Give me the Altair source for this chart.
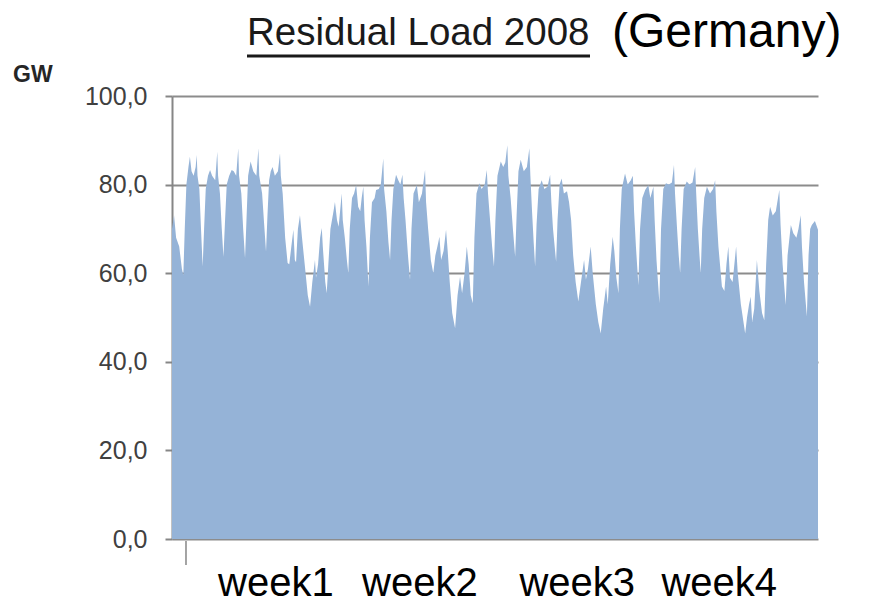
import altair as alt
import pandas as pd

# Residual load: (day since start of plot, GW)
day = [
    0.00, 0.10, 0.20, 0.35, 0.48, 0.55,
    0.62, 0.70, 0.80, 0.87, 0.95, 1.05, 1.15, 1.20, 1.24, 1.33, 1.41, 1.49,
    1.56, 1.64, 1.75, 1.85, 1.95, 2.10, 2.20, 2.24, 2.33, 2.42, 2.50,
    2.57, 2.66, 2.78, 2.90, 3.00, 3.12, 3.22, 3.26, 3.37, 3.46, 3.55,
    3.62, 3.70, 3.82, 3.95, 4.10, 4.20, 4.24, 4.38, 4.48, 4.57,
    4.64, 4.72, 4.80, 4.89, 5.00, 5.15, 5.25, 5.29, 5.38, 5.50, 5.62, 5.70,
    5.80, 5.90, 5.97, 6.03, 6.12, 6.22, 6.32, 6.45, 6.60, 6.71,
    6.82, 6.95, 7.00, 7.10, 7.20, 7.28, 7.33, 7.45, 7.52,
    7.60, 7.70, 7.85, 7.92, 8.02, 8.10, 8.25, 8.30, 8.40, 8.50, 8.57,
    8.64, 8.75, 8.85, 8.95, 9.05, 9.15, 9.22, 9.30, 9.36, 9.45, 9.55,
    9.62, 9.72, 9.85, 9.92, 10.05, 10.15, 10.27, 10.31, 10.42, 10.52, 10.60,
    10.67, 10.76, 10.89, 11.00, 11.10, 11.20, 11.26, 11.35, 11.47, 11.57,
    11.64, 11.74, 11.90, 12.00, 12.15, 12.30, 12.35, 12.45, 12.58, 12.70,
    12.80, 12.90, 13.00, 13.08, 13.20, 13.32, 13.40, 13.50, 13.62, 13.76,
    13.88, 14.00, 14.10, 14.22, 14.33, 14.42, 14.52, 14.62,
    14.70, 14.80, 14.94, 15.05, 15.20, 15.30, 15.36, 15.46, 15.56, 15.65,
    15.72, 15.82, 15.98, 16.10, 16.20, 16.30, 16.35, 16.46, 16.57, 16.68,
    16.75, 16.84, 16.95, 17.10, 17.25, 17.37, 17.42, 17.50, 17.58, 17.65,
    17.72, 17.82, 17.97, 18.10, 18.25, 18.38, 18.44, 18.52, 18.60, 18.67,
    18.74, 18.84, 18.94, 19.05, 19.20, 19.30, 19.40, 19.50, 19.62, 19.75,
    19.88, 20.03, 20.12, 20.22, 20.35, 20.45, 20.60, 20.72, 20.84,
    20.96, 21.10, 21.18, 21.30, 21.42, 21.50, 21.60, 21.70,
    21.77, 21.86, 22.02, 22.15, 22.30, 22.40, 22.46, 22.55, 22.67,
    22.75, 22.86, 23.00, 23.15, 23.25, 23.40, 23.46, 23.55, 23.69,
    23.77, 23.88, 24.01, 24.15, 24.30, 24.40, 24.45, 24.55, 24.63, 24.70,
    24.77, 24.87, 25.02, 25.15, 25.30, 25.43, 25.48, 25.56, 25.64, 25.70,
    25.77, 25.87, 26.00, 26.15, 26.30, 26.40, 26.46, 26.56, 26.73,
    26.85, 26.95, 27.04, 27.12, 27.25, 27.42, 27.50, 27.65, 27.86,
    27.95, 28.05, 28.13, 28.20, 28.30, 28.43, 28.55, 28.68, 28.79,
    28.88, 28.98, 29.07, 29.20, 29.35, 29.52, 29.58, 29.68, 29.83,
    29.92, 30.08, 30.20, 30.35, 30.45, 30.56, 30.62, 30.72, 30.86,
    30.94, 31.02, 31.10, 31.25, 31.40,
]
gw = [
    70.0, 73.0, 68.0, 66.0, 61.0, 59.5,
    70.0, 80.0, 84.0, 86.3, 83.0, 82.0, 84.0, 86.7, 82.0, 79.0, 70.0, 61.5,
    70.0, 79.0, 82.0, 83.3, 82.0, 81.0, 87.4, 82.0, 78.0, 70.0, 63.7,
    71.0, 80.0, 82.0, 83.3, 83.0, 82.0, 88.2, 82.0, 78.0, 70.0, 63.4,
    72.0, 82.0, 85.2, 83.0, 82.0, 88.2, 82.0, 78.0, 71.0, 64.9,
    73.0, 81.0, 83.0, 84.0, 82.0, 83.0, 87.1, 82.0, 78.0, 68.0, 62.3, 62.0,
    66.0, 69.8, 63.0, 62.5, 70.0, 73.1, 68.0, 62.0, 55.0, 52.4,
    58.0, 63.0, 59.0, 62.0, 68.0, 70.2, 66.0, 58.0, 55.5,
    62.0, 70.0, 74.0, 76.1, 72.0, 70.5, 78.0, 72.0, 68.0, 63.0, 60.0,
    70.0, 77.0, 78.0, 79.9, 75.0, 74.0, 77.0, 79.5, 72.0, 66.0, 57.0,
    68.0, 76.0, 77.0, 78.8, 79.0, 80.0, 85.9, 79.0, 74.0, 67.0, 63.0,
    72.0, 79.0, 82.2, 81.0, 80.0, 82.2, 77.0, 72.0, 64.0, 58.5,
    70.0, 78.0, 79.9, 76.0, 78.0, 83.3, 76.0, 70.0, 63.0, 60.0,
    64.0, 66.0, 68.2, 63.0, 65.0, 69.8, 65.0, 58.0, 51.0, 47.6,
    55.0, 59.2, 55.5, 60.0, 66.0, 62.0, 55.0, 53.2,
    68.0, 78.0, 80.3, 79.0, 80.0, 83.3, 78.0, 72.0, 66.0, 61.5,
    72.0, 82.0, 85.2, 84.0, 85.0, 88.9, 82.0, 77.0, 70.0, 63.7,
    73.0, 83.0, 85.6, 83.0, 84.0, 88.2, 82.0, 74.0, 67.0, 61.5,
    71.0, 79.0, 81.0, 79.0, 79.5, 82.2, 76.0, 70.0, 66.0, 62.6,
    72.0, 80.0, 81.4, 78.0, 78.5, 76.0, 72.0, 64.0, 58.0, 53.6,
    58.0, 63.0, 58.6, 61.0, 66.0, 60.0, 53.0, 49.0, 46.4,
    52.0, 57.0, 53.0, 62.0, 68.2, 65.0, 59.0, 55.5,
    70.0, 79.0, 82.5, 80.0, 81.0, 82.0, 74.0, 66.0, 57.3,
    70.0, 77.0, 78.8, 79.9, 77.0, 79.5, 72.0, 63.0, 53.2,
    70.0, 79.0, 80.3, 80.0, 80.5, 84.4, 78.0, 70.0, 64.0, 60.0,
    70.0, 79.0, 80.7, 80.0, 80.5, 84.0, 78.0, 70.0, 64.0, 60.0,
    70.0, 77.0, 79.5, 78.0, 79.0, 81.0, 74.0, 66.0, 57.0,
    56.0, 62.0, 66.0, 59.0, 58.0, 66.0, 60.0, 53.0, 46.4,
    50.0, 53.0, 54.7, 49.0, 52.0, 63.0, 56.0, 51.0, 49.4,
    62.0, 72.0, 75.0, 73.0, 74.0, 78.8, 71.0, 62.0, 52.8,
    64.0, 70.9, 69.0, 68.0, 70.0, 73.1, 66.0, 58.0, 50.2,
    64.0, 70.0, 70.9, 71.8, 69.8,
]

week_labels = ["week1", "week2", "week3", "week4"]
week_label_pos = [5.05, 12.05, 19.7, 26.6]
week_ticks = [0.68, 7.68, 14.68, 21.68, 28.68]
y_ticks = [0, 20, 40, 60, 80, 100]

title_main = "Residual Load 2008"
title_extra = "(Germany)"
unit_label = "GW"

W, H = 646, 443
GRAY = "#868686"
SANS = "Liberation Sans, Arial"

load = pd.DataFrame({"day": day, "gw": gw})
x_scale = alt.Scale(domain=[0, 31.4], nice=False, zero=False)
y_scale = alt.Scale(domain=[0, 100], nice=False)

area = alt.Chart(load).mark_area(color="#95B3D7", opacity=1, interpolate="linear").encode(
    x=alt.X("day:Q", scale=x_scale,
            axis=alt.Axis(values=week_ticks, labels=False, title=None, grid=False,
                          tickSize=8, tickColor=GRAY, tickWidth=1.5, domain=False)),
    y=alt.Y("gw:Q", scale=y_scale,
            axis=alt.Axis(values=y_ticks, title=None, grid=True, gridColor="#8C8C8C",
                          gridWidth=2,
                          labelExpr="replace(format(datum.value, '.1f'), '.', ',')",
                          labelFont=SANS, labelFontSize=25, labelColor="#404040",
                          labelPadding=18, tickSize=7, tickColor=GRAY, tickWidth=2,
                          domainColor=GRAY, domainWidth=2)),
)

long_tick = alt.Chart(pd.DataFrame({"pos": [week_ticks[0]]})).mark_rule(
    color=GRAY, strokeWidth=1.5
).encode(
    x=alt.X("pos:Q", scale=x_scale, axis=None),
    y=alt.value(H + 2), y2=alt.value(H + 26),
)

weeks = alt.Chart(pd.DataFrame({"pos": week_label_pos, "label": week_labels})).mark_text(
    font=SANS, fontSize=40, color="#000000",
    align="center", baseline="alphabetic"
).encode(
    x=alt.X("pos:Q", scale=x_scale, axis=None),
    y=alt.value(H + 57),
    text="label:N",
)

t1 = alt.Chart(pd.DataFrame({"t": [title_main]})).mark_text(
    font=SANS, fontSize=38.5, color="#1a1a1a", align="left", baseline="alphabetic"
).encode(x=alt.value(75), y=alt.value(-51), text="t:N")

underline = alt.Chart(pd.DataFrame({"a": [0]})).mark_rule(
    color="#1a1a1a", strokeWidth=3
).encode(x=alt.value(75), x2=alt.value(418), y=alt.value(-40))

t2 = alt.Chart(pd.DataFrame({"t": [title_extra]})).mark_text(
    font=SANS, fontSize=48, color="#000000", align="left",
    baseline="alphabetic"
).encode(x=alt.value(440), y=alt.value(-49), text="t:N")

unit = alt.Chart(pd.DataFrame({"t": [unit_label]})).mark_text(
    font=SANS, fontSize=23, fontWeight="bold", color="#262626", align="left",
    baseline="alphabetic"
).encode(x=alt.value(-159), y=alt.value(-14), text="t:N")

chart = alt.layer(area, long_tick, weeks, t1, underline, t2, unit).properties(
    width=W, height=H,
    padding={"left": 164, "top": 88, "right": 40, "bottom": 70},
    autosize=alt.AutoSizeParams(type="none"),
).configure_view(stroke=None)

chart.save("out.html", embed_options={"renderer": "svg", "actions": False})
